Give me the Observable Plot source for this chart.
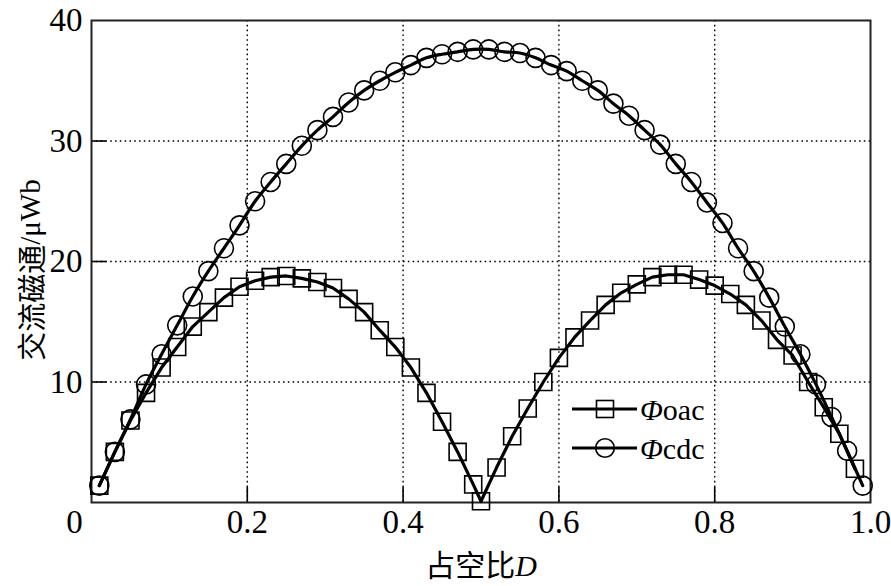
<!DOCTYPE html>
<html><head><meta charset="utf-8">
<script src="https://cdn.jsdelivr.net/npm/d3@7"></script>
<script src="https://cdn.jsdelivr.net/npm/@observablehq/plot@0.6"></script>
<style>body{margin:0;background:#fff} svg{display:block}</style>
</head><body><div id="chart"></div>
<script>
// Duty-cycle sample points (x) and AC flux values (µWb)
const dutyCdc = [0.01,0.03,0.05,0.07,0.09,0.11,0.13,0.15,0.17,0.19,0.21,0.23,0.25,0.27,0.29,0.31,0.33,0.35,0.37,0.39,0.41,0.43,0.45,0.47,0.49,0.51,0.53,0.55,0.57,0.59,0.61,0.63,0.65,0.67,0.69,0.71,0.73,0.75,0.77,0.79,0.81,0.83,0.85,0.87,0.89,0.91,0.93,0.95,0.97,0.99];
const fluxCdc = [1.4,4.2,6.9,9.8,12.3,14.7,17.1,19.2,21.1,23.0,25.0,26.6,28.1,29.6,30.9,32.0,33.2,34.2,35.0,35.7,36.3,36.9,37.2,37.4,37.6,37.6,37.4,37.3,36.9,36.3,35.8,35.0,34.2,33.1,32.1,30.9,29.7,28.1,26.6,24.9,23.2,21.1,19.2,17.0,14.6,12.3,9.8,7.1,4.3,1.4];
const dutyOac = [0.01,0.03,0.05,0.07,0.09,0.11,0.13,0.15,0.17,0.19,0.21,0.23,0.25,0.27,0.29,0.31,0.33,0.35,0.37,0.39,0.41,0.43,0.45,0.47,0.49,0.50,0.52,0.54,0.56,0.58,0.60,0.62,0.64,0.66,0.68,0.70,0.72,0.74,0.76,0.78,0.80,0.82,0.84,0.86,0.88,0.90,0.92,0.94,0.96,0.98];
const fluxOac = [1.4,4.2,6.8,9.1,11.2,12.9,14.6,15.8,17.0,17.9,18.4,18.7,18.8,18.6,18.3,17.8,16.9,15.8,14.3,12.9,11.2,9.1,6.7,4.2,1.5,0.1,2.9,5.5,7.8,10.0,12.0,13.7,15.1,16.4,17.4,18.1,18.7,18.9,18.9,18.5,18.0,17.3,16.4,15.1,13.5,12.2,10.0,7.9,5.7,2.8];

const xTicks = [0,0.2,0.4,0.6,0.8,1.0];
const xTickLabels = ["0","0.2","0.4","0.6","0.8","1.0"];
const xGrid = [0.2,0.4,0.6,0.8];
const yTicks = [10,20,30,40];
const yTickLabels = ["10","20","30","40"];
const yGrid = [10,20,30];
const seriesNames = [["Φ","oac"],["Φ","cdc"]];
const xTitle = ["占空比","D"];
const yTitle = ["交流磁通","/μWb"];

const oac = dutyOac.map((d,i)=>({d, v: fluxOac[i]}));
const cdc = dutyCdc.map((d,i)=>({d, v: fluxCdc[i]}));

const serif = "'Liberation Serif','Times New Roman',serif";
const cjk = "'Noto Sans CJK SC',sans-serif";
const W = 891, H = 586, mL = 91, mR = 21, mT = 20, mB = 84;

const chart = Plot.plot({
  width: W, height: H,
  marginLeft: mL, marginRight: mR, marginTop: mT, marginBottom: mB,
  style: {fontFamily: serif, fontSize: "33px", color: "#000", background: "#fff", overflow: "visible"},
  x: {domain: [0, 1]},
  y: {domain: [0, 40]},
  marks: [
    Plot.gridX(xGrid, {stroke: "#000", strokeOpacity: 1, strokeWidth: 1.4, strokeDasharray: "1.6,3.2"}),
    Plot.gridY(yGrid, {stroke: "#000", strokeOpacity: 1, strokeWidth: 1.4, strokeDasharray: "1.6,3.2"}),
    Plot.ruleX(xGrid, {stroke: "#000", strokeWidth: 1.6, insetTop: (H - mT - mB) - 15}),
    Plot.ruleY(yGrid, {stroke: "#000", strokeWidth: 1.6, insetRight: (W - mL - mR) - 15}),
    Plot.axisX(xTicks, {tickSize: 0, tickPadding: 7, tickFormat: (d, i) => xTickLabels[i], label: null, fontSize: 33}),
    Plot.axisY(yTicks, {tickSize: 0, tickPadding: 9, tickFormat: (d, i) => yTickLabels[i], label: null, fontSize: 33}),
    Plot.frame({stroke: "#222", strokeWidth: 2}),
    Plot.line(oac, {x: "d", y: "v", stroke: "#000", strokeWidth: 3.2}),
    Plot.line(cdc, {x: "d", y: "v", stroke: "#000", strokeWidth: 3.2, curve: "catmull-rom"}),
    Plot.dot(oac, {x: "d", y: "v", symbol: "square", r: 9.6, stroke: "#000", strokeWidth: 1.6, fill: "none"}),
    Plot.dot(cdc, {x: "d", y: "v", symbol: "circle", r: 9.5, stroke: "#000", strokeWidth: 1.6, fill: "none"})
  ]
});
document.getElementById("chart").appendChild(chart);

const svg = d3.select(chart);
// shift the x "0" label left, as in the reference
svg.selectAll("g[aria-label='x-axis tick label'] text").filter((d, i) => i === 0).attr("transform", function(){
  const t = d3.select(this).attr("transform") || "";
  return t + " translate(-17,0)";
});

// x-axis title
const xt = svg.append("text").attr("x", 481).attr("y", 576).attr("text-anchor", "middle").attr("font-size", 30).attr("fill", "#000");
xt.append("tspan").attr("font-family", cjk).text(xTitle[0]);
xt.append("tspan").attr("font-family", serif).attr("font-style", "italic").text(xTitle[1]);

// y-axis title
const yt = svg.append("text").attr("transform", "translate(30,270) rotate(-90)").attr("text-anchor", "middle")
  .attr("dominant-baseline", "central").attr("font-size", 29).attr("fill", "#000");
yt.append("tspan").attr("font-family", cjk).text(yTitle[0]);
yt.append("tspan").attr("font-family", serif).text(yTitle[1]);

// legend
const leg = svg.append("g");
const rows = [{y: 409, sym: "square"}, {y: 448, sym: "circle"}];
rows.forEach((r, i) => {
  leg.append("line").attr("x1", 572).attr("x2", 637).attr("y1", r.y).attr("y2", r.y).attr("stroke", "#000").attr("stroke-width", 3.2);
  if (r.sym === "square") {
    leg.append("rect").attr("x", 605 - 8.5).attr("y", r.y - 8.5).attr("width", 17).attr("height", 17).attr("fill", "none").attr("stroke", "#000").attr("stroke-width", 1.6);
  } else {
    leg.append("circle").attr("cx", 605).attr("cy", r.y).attr("r", 9.3).attr("fill", "none").attr("stroke", "#000").attr("stroke-width", 1.6);
  }
  const t = leg.append("text").attr("x", 640).attr("y", r.y + 11).attr("text-anchor", "start")
    .attr("font-family", serif).attr("font-size", 30).attr("fill", "#000");
  t.append("tspan").attr("font-style", "italic").text(seriesNames[i][0]);
  t.append("tspan").text(seriesNames[i][1]);
});
</script>
</body></html>
